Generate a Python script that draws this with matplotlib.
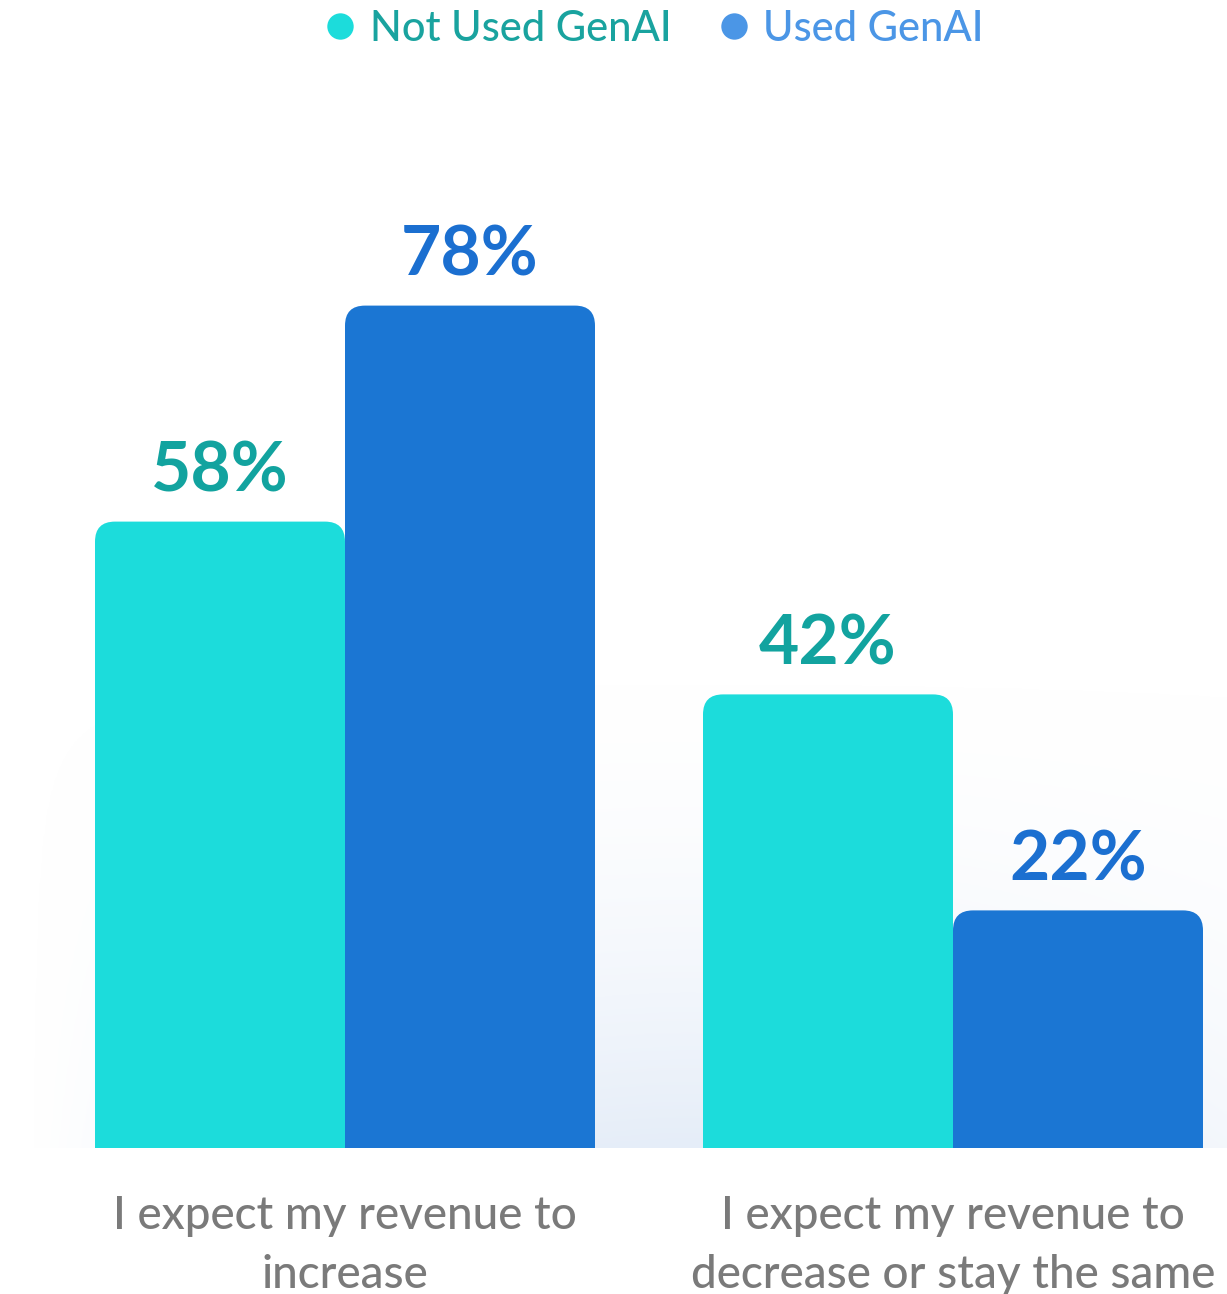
import numpy as np
import matplotlib.pyplot as plt
from matplotlib.patches import FancyBboxPatch, Rectangle
from matplotlib.lines import Line2D

categories = ["I expect my revenue to\nincrease", "I expect my revenue to\ndecrease or stay the same"]
series_names = ["Not Used GenAI", "Used GenAI"]
not_used = [58, 42]
used = [78, 22]

bar_colors = ["#1cdcdb", "#1b76d3"]
label_colors = ["#12a39f", "#1b6fd0"]
legend_text_colors = ["#19a39f", "#4b96e6"]

W, H = 1227, 1294
fig = plt.figure(figsize=(W / 100, H / 100), dpi=100)
plt.rcParams['font.family'] = ['Lato', 'DejaVu Sans']

# axes in pixel terms: group centers at 345px and 953px, baseline at 1148px
px_per_x = 608.0
px_per_y = 10.8
base_px = 1148
top_px = 60
ax = fig.add_axes([0, (H - base_px) / H, 1, (base_px - top_px) / H])
ax.set_xlim(-345 / px_per_x, (W - 345) / px_per_x)
ax.set_ylim(0, (base_px - top_px) / px_per_y)
ax.axis('off')

# soft background glow behind the bars (strongest at bottom centre)
gx = np.linspace(0, 1, 300)
gy = np.linspace(0, 1, 200)
GX, GY = np.meshgrid(gx, gy)
alpha = (1 - GY) ** 1.8 * np.exp(-((GX - 0.55) / 0.5) ** 2) * np.clip(GX * 8, 0, 1)
glow = np.zeros((200, 300, 4))
glow[..., :3] = np.array([0.90, 0.93, 0.975])
glow[..., 3] = alpha
ax.imshow(glow, extent=[-315 / px_per_x, (W - 345) / px_per_x, 0, 45], origin='lower',
          aspect='auto', zorder=0)

width = 250 / px_per_x
x = np.arange(len(categories))
r_px = 20
for i, vals in enumerate([not_used, used]):
    offs = (i - 0.5) * width
    bars = ax.bar(x + offs, vals, width=width, color='none', edgecolor='none')
    for b, v in zip(bars, vals):
        bx, by = b.get_x(), b.get_y()
        bw, bh = b.get_width(), b.get_height()
        fb = FancyBboxPatch((bx, by), bw, bh,
                            boxstyle="round,pad=0,rounding_size=%f" % (r_px / px_per_x),
                            mutation_aspect=px_per_x / px_per_y,
                            facecolor=bar_colors[i], edgecolor='none', zorder=2)
        ax.add_patch(fb)
        ax.add_patch(Rectangle((bx, by), bw, bh / 2, facecolor=bar_colors[i],
                               edgecolor='none', zorder=2))
        ax.text(bx + bw / 2, v + 18 / px_per_y, "%d%%" % v, ha='center', va='bottom',
                fontsize=50, fontweight='bold', color=label_colors[i], zorder=3)

# category labels
for xi, cat in zip(x, categories):
    fig.text((345 + xi * px_per_x) / W, 1 - 1195 / H, cat, ha='center', va='top',
             fontsize=33, color='#7a7a7a', linespacing=1.5, fontweight='medium')

# legend
handles = [Line2D([], [], marker='o', linestyle='none', markersize=19,
                  markerfacecolor=c, markeredgecolor='none')
           for c in ["#1cdcdb", "#4b96e6"]]
leg = fig.legend(handles, series_names, loc='center', bbox_to_anchor=(0.531, 1 - 29 / H),
                 ncol=2, frameon=False, handletextpad=0.2, columnspacing=1.0,
                 handlelength=1.0, prop={'size': 30, 'weight': 'medium'})
for t, c in zip(leg.get_texts(), legend_text_colors):
    t.set_color(c)

fig.savefig("out.png", dpi=100)
